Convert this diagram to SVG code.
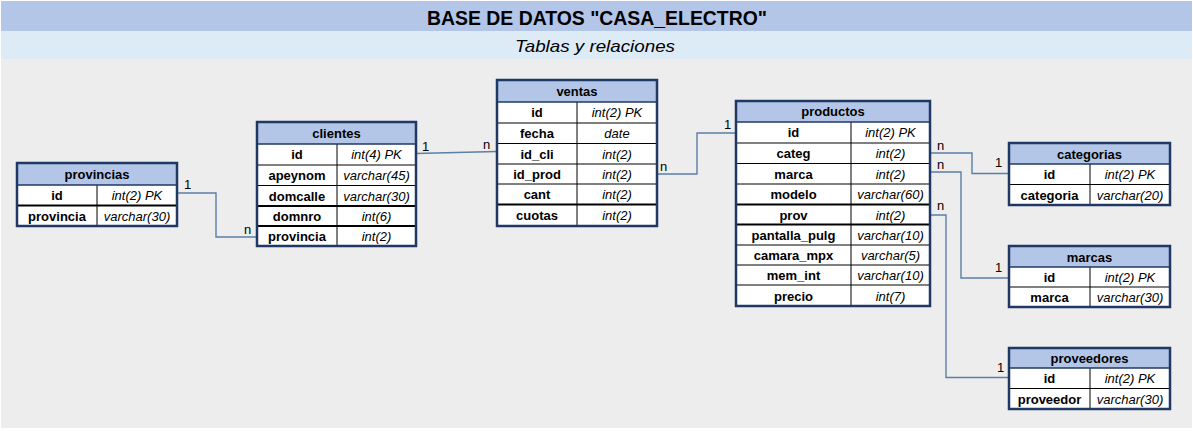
<svg xmlns="http://www.w3.org/2000/svg" width="1193" height="431" viewBox="0 0 1193 431">
<style>
.bg{fill:#EDEDED}
.hd{fill:#B4C6E7}
.row{fill:#FFFFFF}
.frame{fill:none;stroke:#1F3864;stroke-width:2.5}
.sep{stroke:#000;stroke-width:1}
.sepb{stroke:#000;stroke-width:2}
.hsep{stroke:#1F3864;stroke-width:1.5}
.t{font-family:"Liberation Sans",Arial,sans-serif;font-size:13px;text-anchor:middle;fill:#000}
.b{font-weight:bold}
.i{font-style:italic}
.lbl{font-family:"Liberation Sans",Arial,sans-serif;font-size:13px;fill:#000}
.con{fill:none;stroke:#5B7FA6;stroke-width:1.4}
</style>
<rect x="0" y="0" width="1193" height="431" fill="#FFFFFF"/>
<rect x="1" y="1" width="1191" height="30" fill="#B4C6E7"/>
<rect x="1" y="31" width="1191" height="28" fill="#DDEBF7"/>
<rect x="1" y="59" width="1191" height="369" class="bg"/>
<text x="597" y="25" class="t b" style="font-size:20px" textLength="340" lengthAdjust="spacingAndGlyphs">BASE DE DATOS "CASA_ELECTRO"</text>
<text x="595" y="52" class="t i" style="font-size:17px" textLength="160" lengthAdjust="spacingAndGlyphs">Tablas y relaciones</text>

<g id="connectors">
<polyline class="con" points="177,193 216,193 216,237 257,237"/>
<polyline class="con" points="416,153.5 497,151.5"/>
<polyline class="con" points="657,174 697,174 697,133 736,133"/>
<polyline class="con" points="930,153 972,153 972,173.5 1009,173.5"/>
<polyline class="con" points="930,172 961,172 961,278 1009,278"/>
<polyline class="con" points="930,215 946,215 946,377.5 1009,377.5"/>
<text class="lbl" x="184" y="189">1</text>
<text class="lbl" x="244" y="234">n</text>
<text class="lbl" x="422" y="151">1</text>
<text class="lbl" x="483" y="149">n</text>
<text class="lbl" x="660" y="171">n</text>
<text class="lbl" x="724" y="129">1</text>
<text class="lbl" x="937" y="150">n</text>
<text class="lbl" x="995" y="167">1</text>
<text class="lbl" x="937" y="169">n</text>
<text class="lbl" x="995" y="272">1</text>
<text class="lbl" x="937" y="210">n</text>
<text class="lbl" x="997" y="372">1</text>
</g>

<g id="provincias">
<rect x="17" y="163" width="160" height="22" class="hd"/>
<rect x="17" y="185" width="160" height="41" class="row"/>
<line x1="97" y1="185" x2="97" y2="226" class="sep"/>
<line x1="17" y1="205.5" x2="177" y2="205.5" class="sepb"/>
<line x1="17" y1="185" x2="177" y2="185" class="hsep"/>
<rect x="17" y="163" width="160" height="63" class="frame"/>
<text x="97" y="179" class="t b">provincias</text>
<text x="57" y="200" class="t b">id</text><text x="137" y="200" class="t i">int(2) PK</text>
<text x="57" y="221" class="t b">provincia</text><text x="137" y="221" class="t i">varchar(30)</text>
</g>

<g id="clientes">
<rect x="257" y="122" width="159" height="22" class="hd"/>
<rect x="257" y="144" width="159" height="102" class="row"/>
<line x1="337" y1="144" x2="337" y2="246" class="sep"/>
<line x1="257" y1="165" x2="416" y2="165" class="sep"/>
<line x1="257" y1="185.5" x2="416" y2="185.5" class="sep"/>
<line x1="257" y1="206" x2="416" y2="206" class="sepb"/>
<line x1="257" y1="226" x2="416" y2="226" class="sepb"/>
<line x1="257" y1="144" x2="416" y2="144" class="hsep"/>
<rect x="257" y="122" width="159" height="124" class="frame"/>
<text x="336.5" y="138" class="t b">clientes</text>
<text x="297" y="159" class="t b">id</text><text x="376.5" y="159" class="t i">int(4) PK</text>
<text x="297" y="180" class="t b">apeynom</text><text x="376.5" y="180" class="t i">varchar(45)</text>
<text x="297" y="200.5" class="t b">domcalle</text><text x="376.5" y="200.5" class="t i">varchar(30)</text>
<text x="297" y="221" class="t b">domnro</text><text x="376.5" y="221" class="t i">int(6)</text>
<text x="297" y="241" class="t b">provincia</text><text x="376.5" y="241" class="t i">int(2)</text>
</g>

<g id="ventas">
<rect x="497" y="80" width="160" height="22" class="hd"/>
<rect x="497" y="102" width="160" height="124" class="row"/>
<line x1="577" y1="102" x2="577" y2="226" class="sep"/>
<line x1="497" y1="123" x2="657" y2="123" class="sep"/>
<line x1="497" y1="143.5" x2="657" y2="143.5" class="sep"/>
<line x1="497" y1="164" x2="657" y2="164" class="sep"/>
<line x1="497" y1="184" x2="657" y2="184" class="sep"/>
<line x1="497" y1="204.5" x2="657" y2="204.5" class="sepb"/>
<line x1="497" y1="102" x2="657" y2="102" class="hsep"/>
<rect x="497" y="80" width="160" height="146" class="frame"/>
<text x="577" y="96" class="t b">ventas</text>
<text x="537" y="117" class="t b">id</text><text x="617" y="117" class="t i">int(2) PK</text>
<text x="537" y="138" class="t b">fecha</text><text x="617" y="138" class="t i">date</text>
<text x="537" y="158.5" class="t b">id_cli</text><text x="617" y="158.5" class="t i">int(2)</text>
<text x="537" y="179" class="t b">id_prod</text><text x="617" y="179" class="t i">int(2)</text>
<text x="537" y="199" class="t b">cant</text><text x="617" y="199" class="t i">int(2)</text>
<text x="537" y="220" class="t b">cuotas</text><text x="617" y="220" class="t i">int(2)</text>
</g>

<g id="productos">
<rect x="736" y="101" width="194" height="21" class="hd"/>
<rect x="736" y="122" width="194" height="184" class="row"/>
<line x1="851" y1="122" x2="851" y2="306" class="sep"/>
<line x1="736" y1="143" x2="930" y2="143" class="sep"/>
<line x1="736" y1="163.5" x2="930" y2="163.5" class="sep"/>
<line x1="736" y1="184" x2="930" y2="184" class="sep"/>
<line x1="736" y1="204.5" x2="930" y2="204.5" class="sepb"/>
<line x1="736" y1="224.5" x2="930" y2="224.5" class="sepb"/>
<line x1="736" y1="245" x2="930" y2="245" class="sep"/>
<line x1="736" y1="265" x2="930" y2="265" class="sep"/>
<line x1="736" y1="285" x2="930" y2="285" class="sep"/>
<line x1="736" y1="122" x2="930" y2="122" class="hsep"/>
<rect x="736" y="101" width="194" height="205" class="frame"/>
<text x="833" y="116" class="t b">productos</text>
<text x="793.5" y="137" class="t b">id</text><text x="890.5" y="137" class="t i">int(2) PK</text>
<text x="793.5" y="158" class="t b">categ</text><text x="890.5" y="158" class="t i">int(2)</text>
<text x="793.5" y="178.5" class="t b">marca</text><text x="890.5" y="178.5" class="t i">int(2)</text>
<text x="793.5" y="199" class="t b">modelo</text><text x="890.5" y="199" class="t i">varchar(60)</text>
<text x="793.5" y="219.5" class="t b">prov</text><text x="890.5" y="219.5" class="t i">int(2)</text>
<text x="793.5" y="239.5" class="t b">pantalla_pulg</text><text x="890.5" y="239.5" class="t i">varchar(10)</text>
<text x="793.5" y="260" class="t b">camara_mpx</text><text x="890.5" y="260" class="t i">varchar(5)</text>
<text x="793.5" y="280" class="t b">mem_int</text><text x="890.5" y="280" class="t i">varchar(10)</text>
<text x="793.5" y="300.5" class="t b">precio</text><text x="890.5" y="300.5" class="t i">int(7)</text>
</g>

<g id="categorias">
<rect x="1009" y="143" width="161" height="21" class="hd"/>
<rect x="1009" y="164" width="161" height="41" class="row"/>
<line x1="1090" y1="164" x2="1090" y2="205" class="sep"/>
<line x1="1009" y1="184.5" x2="1170" y2="184.5" class="sep"/>
<line x1="1009" y1="164" x2="1170" y2="164" class="hsep"/>
<rect x="1009" y="143" width="161" height="62" class="frame"/>
<text x="1089.5" y="158.5" class="t b">categorias</text>
<text x="1049.5" y="179" class="t b">id</text><text x="1130" y="179" class="t i">int(2) PK</text>
<text x="1049.5" y="199.5" class="t b">categoria</text><text x="1130" y="199.5" class="t i">varchar(20)</text>
</g>

<g id="marcas">
<rect x="1009" y="246" width="161" height="21" class="hd"/>
<rect x="1009" y="267" width="161" height="40" class="row"/>
<line x1="1090" y1="267" x2="1090" y2="307" class="sep"/>
<line x1="1009" y1="287" x2="1170" y2="287" class="sep"/>
<line x1="1009" y1="267" x2="1170" y2="267" class="hsep"/>
<rect x="1009" y="246" width="161" height="61" class="frame"/>
<text x="1089.5" y="261.5" class="t b">marcas</text>
<text x="1049.5" y="281.5" class="t b">id</text><text x="1130" y="281.5" class="t i">int(2) PK</text>
<text x="1049.5" y="302" class="t b">marca</text><text x="1130" y="302" class="t i">varchar(30)</text>
</g>

<g id="proveedores">
<rect x="1009" y="348" width="161" height="20" class="hd"/>
<rect x="1009" y="368" width="161" height="41" class="row"/>
<line x1="1090" y1="368" x2="1090" y2="409" class="sep"/>
<line x1="1009" y1="388.5" x2="1170" y2="388.5" class="sep"/>
<line x1="1009" y1="368" x2="1170" y2="368" class="hsep"/>
<rect x="1009" y="348" width="161" height="61" class="frame"/>
<text x="1089.5" y="363" class="t b">proveedores</text>
<text x="1049.5" y="383" class="t b">id</text><text x="1130" y="383" class="t i">int(2) PK</text>
<text x="1049.5" y="403.5" class="t b">proveedor</text><text x="1130" y="403.5" class="t i">varchar(30)</text>
</g>
</svg>
